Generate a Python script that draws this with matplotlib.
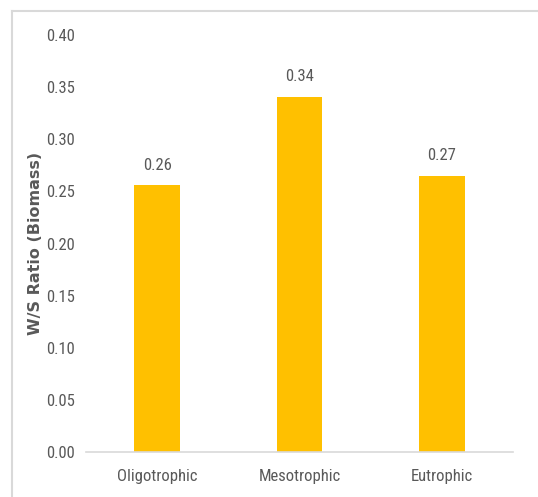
import matplotlib.pyplot as plt
from matplotlib import font_manager
from matplotlib.lines import Line2D

# дані з графіка
categories = ['Oligotrophic', 'Mesotrophic', 'Eutrophic']
ratios = [0.256, 0.341, 0.265]
labels = ['0.26', '0.34', '0.27']
y_ticks = [0.00, 0.05, 0.10, 0.15, 0.20, 0.25, 0.30, 0.35, 0.40]

# шукаємо вузький шрифт серед встановлених
installed = set(f.name for f in font_manager.fontManager.ttflist)
narrow_font = 'Liberation Sans'
narrow_size = 10.5
for name in ['Liberation Sans Narrow', 'DejaVu Sans Condensed', 'Roboto Condensed', 'Open Sans Condensed']:
    if name in installed:
        narrow_font = name
        narrow_size = 12
        break
narrow = [narrow_font, 'DejaVu Sans']
grey = '#595959'

fig = plt.figure(figsize=(5.38, 4.97), dpi=100)
ax = fig.add_axes([0.160, 0.0905, 0.794, 0.8391])

x = range(len(categories))
ax.bar(x, ratios, width=0.32, color='#FFC000')

for i in x:
    ax.annotate(labels[i], (i, ratios[i]), xytext=(0, 9), textcoords='offset points',
                ha='center', va='bottom', fontsize=narrow_size, color=grey, family=narrow)

ax.set_xlim(-0.5, len(categories) - 0.5)
ax.set_ylim(0, 0.40)
ax.set_yticks(y_ticks)
ax.set_yticklabels(['%.2f' % t for t in y_ticks], family=narrow, fontsize=narrow_size, color=grey)
ax.set_xticks(list(x))
ax.set_xticklabels(categories, family=narrow, fontsize=narrow_size, color=grey)
ax.tick_params(axis='y', length=0, pad=8)
ax.tick_params(axis='x', length=0, pad=12)

for side in ['top', 'right', 'left']:
    ax.spines[side].set_visible(False)
ax.spines['bottom'].set_color('#D9D9D9')
ax.spines['bottom'].set_linewidth(1.2)

ax.set_ylabel('W/S Ratio (Biomass)', fontsize=11.5, fontweight='bold', color=grey)
ax.yaxis.set_label_coords(-0.1, 0.5)

# рамка навколо діаграми
fig.add_artist(Line2D([12 / 538, 12 / 538], [0, 1 - 11 / 497], transform=fig.transFigure,
                      color='#D9D9D9', linewidth=1.5))
fig.add_artist(Line2D([12 / 538, 1], [1 - 11 / 497, 1 - 11 / 497], transform=fig.transFigure,
                      color='#D9D9D9', linewidth=1.5))

fig.savefig('out.png', dpi=100)
